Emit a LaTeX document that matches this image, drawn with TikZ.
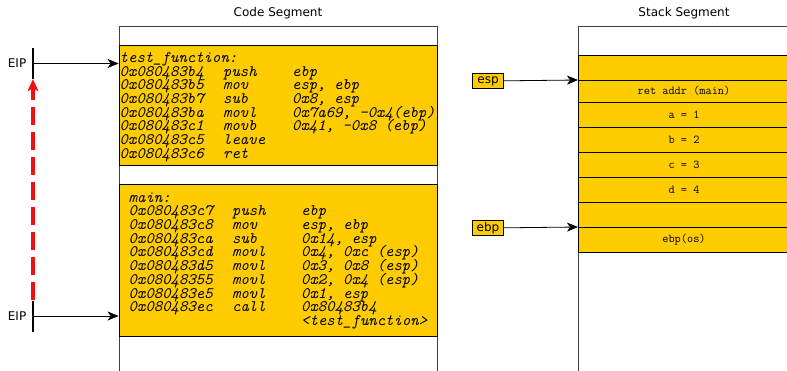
\documentclass[tikz,border=0pt]{standalone}
\usepackage{fontspec}
\setsansfont{DejaVu Sans}
\usetikzlibrary{arrows.meta,positioning}
\definecolor{SegYellow}{HTML}{FFCC00}
\definecolor{SegEdge}{HTML}{404040}
\definecolor{JumpRed}{HTML}{F01010}
\newlength{\addrcol}\setlength{\addrcol}{103.5pt}
\newlength{\opcol}\setlength{\opcol}{69pt}
\newcommand{\asmline}[3]{\makebox[\addrcol][l]{#1}\makebox[\opcol][l]{#2}#3}

\tikzset{
  seglabel/.style={font=\sffamily\fontsize{12}{14}\selectfont},
  segedge/.style={SegEdge,line width=0.8pt},
  codebox/.style={draw=black,fill=SegYellow,line width=0.8pt,
    minimum width=318pt,inner sep=0pt},
  codetext/.style={anchor=north west,align=left,inner sep=0pt,
    font=\ttfamily\itshape\fontsize{16}{13.7}\selectfont,
    execute at begin node={\lineskiplimit=-20pt\relax}},
  stackrow/.style={draw=black,fill=SegYellow,line width=0.8pt,
    minimum width=212pt,minimum height=25pt,inner sep=0pt,outer sep=0pt,
    font=\ttfamily\fontsize{12}{14}\selectfont},
  regbox/.style={draw=black,fill=SegYellow,line width=0.8pt,inner sep=0pt,
    minimum width=31pt,minimum height=15.5pt,
    font=\sffamily\fontsize{12}{14}\selectfont},
  eipbar/.style={fill=black,inner sep=0pt,minimum width=2pt,minimum height=31pt},
  ptr/.style={black,line width=0.8pt,-{Stealth[length=11pt,width=9pt,inset=3pt]}},
  jump/.style={JumpRed,line width=3.5pt,dash pattern=on 18pt off 7pt,
    -{Stealth[length=12pt,width=11pt,inset=3pt]}}
}

\begin{document}
\begin{tikzpicture}[x=1pt,y=-1pt]
  \useasboundingbox (0,0) rectangle (787,370);

  % code segment
  \node[seglabel] (codetitle) at (278,13) {Code Segment};
  \draw[segedge] (119,371) -- (119,26) -- (437,26) -- (437,371);
  \node[codebox,minimum height=120pt] (fnbox) at (278,105) {};
  \node[codetext] (fntext) at (119.5,52.3) {%
    test\_function:\\
    \asmline{0x080483b4}{push}{ebp}\\
    \asmline{0x080483b5}{mov}{esp, ebp}\\
    \asmline{0x080483b7}{sub}{0x8, esp}\\
    \asmline{0x080483ba}{movl}{0x7a69, -0x4(ebp)}\\
    \asmline{0x080483c1}{movb}{0x41, -0x8 (ebp)}\\
    \asmline{0x080483c5}{leave}{}\\
    \asmline{0x080483c6}{ret}{}};
  \node[codebox,minimum height=152pt] (mainbox) at (278,260) {};
  \node[codetext] (maintext) at (128.5,192.3) {%
    main:\\
    \asmline{0x080483c7}{push}{ebp}\\
    \asmline{0x080483c8}{mov}{esp, ebp}\\
    \asmline{0x080483ca}{sub}{0x14, esp}\\
    \asmline{0x080483cd}{movl}{0x4, 0xc (esp)}\\
    \asmline{0x080483d5}{movl}{0x3, 0x8 (esp)}\\
    \asmline{0x08048355}{movl}{0x2, 0x4 (esp)}\\
    \asmline{0x080483e5}{movl}{0x1, esp}\\
    \asmline{0x080483ec}{call}{0x80483b4}\\
    \asmline{}{}{<test\_function>}};

  % instruction pointer
  \node[eipbar] (eipA) at (33,63.5) {};
  \node[seglabel,left=2pt of eipA] (eipAlabel) {EIP};
  \draw[ptr] (eipA.center) -- (eipA -| fnbox.west);
  \node[eipbar] (eipB) at (33,316) {};
  \node[seglabel,left=2pt of eipB] (eipBlabel) {EIP};
  \draw[ptr] (eipB.center) -- (eipB -| mainbox.west);
  \draw[jump] (eipB.north) -- (eipA.south);

  % stack segment
  \node[seglabel] (stacktitle) at (684,13) {Stack Segment};
  \draw[segedge] (578,371) -- (578,26) -- (791,26);
  \node[stackrow,anchor=north] (r0) at (684,55) {};
  \node[stackrow,minimum height=22pt,below=0pt of r0] (r1) {ret addr (main)};
  \node[stackrow,below=0pt of r1] (r2) {a = 1};
  \node[stackrow,below=0pt of r2] (r3) {b = 2};
  \node[stackrow,below=0pt of r3] (r4) {c = 3};
  \node[stackrow,below=0pt of r4] (r5) {d = 4};
  \node[stackrow,below=0pt of r5] (r6) {};
  \node[stackrow,below=0pt of r6] (r7) {ebp(os)};

  \node[regbox] (esp) at (488,81) {esp};
  \draw[ptr] (esp) -- (r0.south west);
  \node[regbox] (ebp) at (488,228) {ebp};
  \draw[ptr] (ebp) -- (r6.south west);
\end{tikzpicture}
\end{document}
